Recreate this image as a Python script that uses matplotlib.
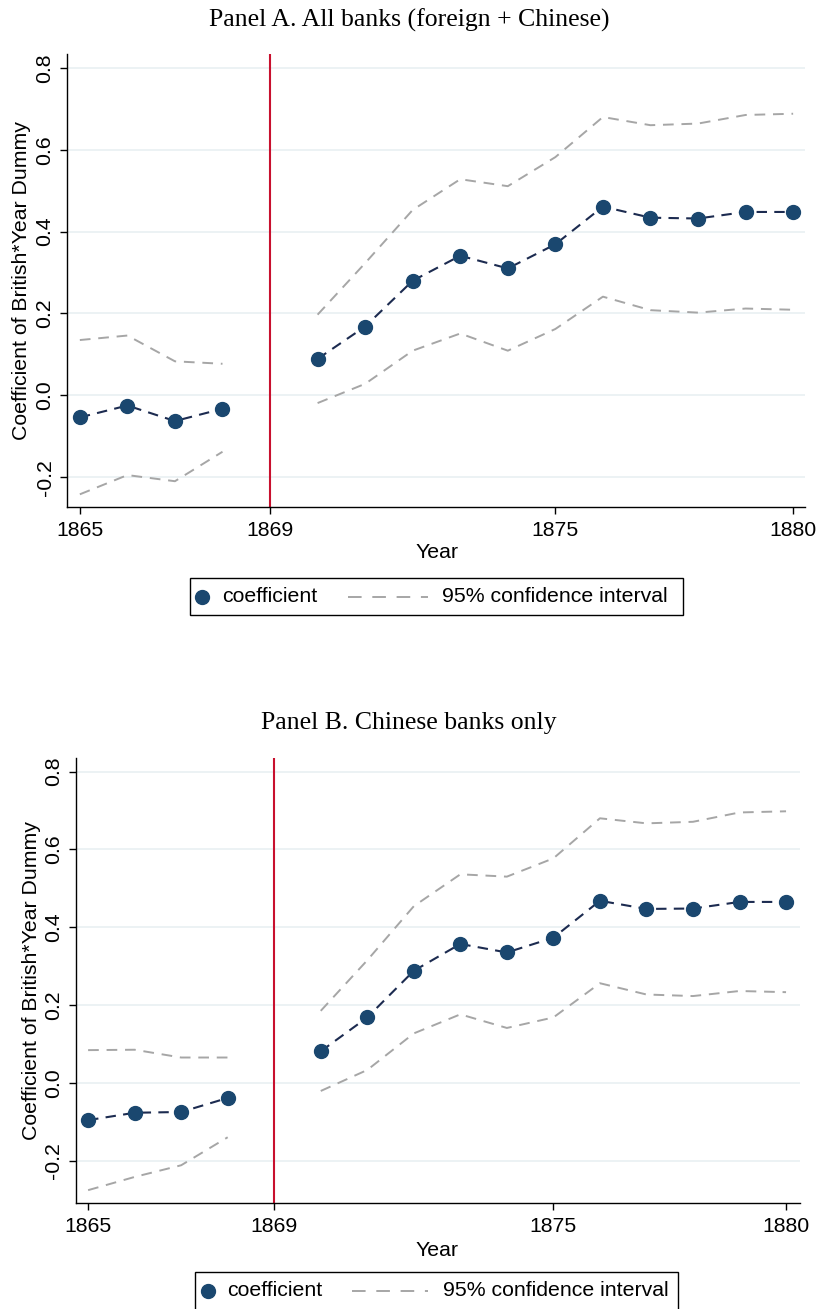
import matplotlib
matplotlib.use("Agg")
import matplotlib.pyplot as plt
from matplotlib.lines import Line2D
from matplotlib.patches import Rectangle

# ---------------- data ----------------
pre_years = [1865, 1866, 1867, 1868]
post_years = [1870, 1871, 1872, 1873, 1874, 1875, 1876, 1877, 1878, 1879, 1880]

# Panel A: all banks
a_coef_pre = [-0.054, -0.025, -0.063, -0.033]
a_up_pre = [0.135, 0.146, 0.083, 0.077]
a_lo_pre = [-0.242, -0.195, -0.210, -0.138]
a_coef_post = [0.089, 0.168, 0.280, 0.341, 0.310, 0.369, 0.461, 0.434, 0.432, 0.448, 0.448]
a_up_post = [0.197, 0.323, 0.453, 0.528, 0.511, 0.582, 0.680, 0.660, 0.664, 0.685, 0.688]
a_lo_post = [-0.019, 0.028, 0.109, 0.151, 0.109, 0.162, 0.241, 0.208, 0.202, 0.212, 0.209]

# Panel B: Chinese banks only
b_coef_pre = [-0.096, -0.077, -0.075, -0.039]
b_up_pre = [0.084, 0.085, 0.065, 0.065]
b_lo_pre = [-0.276, -0.242, -0.212, -0.140]
b_coef_post = [0.081, 0.168, 0.288, 0.357, 0.335, 0.373, 0.468, 0.447, 0.448, 0.465, 0.465]
b_up_post = [0.185, 0.315, 0.454, 0.536, 0.530, 0.577, 0.680, 0.667, 0.671, 0.695, 0.698]
b_lo_post = [-0.021, 0.033, 0.127, 0.176, 0.141, 0.168, 0.256, 0.227, 0.223, 0.236, 0.233]

event_year = 1869
x_ticks = [1865, 1869, 1875, 1880]
y_ticks = [-0.2, 0.0, 0.2, 0.4, 0.6, 0.8]
titles = ["Panel A. All banks (foreign + Chinese)", "Panel B. Chinese banks only"]
ylabel = "Coefficient of British*Year Dummy"
xlabel = "Year"
legend_labels = ["coefficient", "95% confidence interval"]

# ---------------- style ----------------
W, H = 818, 1309
DPI = 100
COEF_C = "#1a476f"
COEF_LINE = "#1c2b50"
CI_C = "#a6a6a6"
RED = "#c8102e"
GRID = "#e9f0f2"
SANS = ["Liberation Sans", "DejaVu Sans"]
SERIF = ["Liberation Serif", "DejaVu Serif"]
FS = 15.3
CI_DASH = (5.5, 4)
COEF_DASH = (5, 3.5)

plt.rcParams["font.family"] = SANS

fig = plt.figure(figsize=(W / DPI, H / DPI), dpi=DPI)
fig.patch.set_facecolor("white")

def fx(px):
    return px / W

def fy(py):
    return 1 - py / H

def px_axes(left, top, right, bottom):
    return fig.add_axes([left / W, 1 - bottom / H, (right - left) / W, (bottom - top) / H])

panels = [
    dict(rect=(67, 54, 805, 507), ylim=(-0.273, 0.834), xlim=(1864.73, 1880.25),
         coef=(a_coef_pre, a_coef_post), up=(a_up_pre, a_up_post), lo=(a_lo_pre, a_lo_post),
         title_y=20, xlabel=(437, 553), ylabel_x=31,
         leg=dict(box=(190, 578, 683, 615), mk=202, t1=222, d=(348, 428), t2=442, y=597)),
    dict(rect=(76, 758, 800, 1203), ylim=(-0.309, 0.835), xlim=(1864.74, 1880.3),
         coef=(b_coef_pre, b_coef_post), up=(b_up_pre, b_up_post), lo=(b_lo_pre, b_lo_post),
         title_y=723, xlabel=(437, 1250), ylabel_x=41,
         leg=dict(box=(195, 1272, 678, 1310), mk=208, t1=227, d=(352, 428), t2=443, y=1291)),
]

for i, p in enumerate(panels):
    ax = px_axes(*p["rect"])
    ax.set_xlim(*p["xlim"])
    ax.set_ylim(*p["ylim"])
    for s in ["top", "right"]:
        ax.spines[s].set_visible(False)
    for s in ["left", "bottom"]:
        ax.spines[s].set_linewidth(1.0)
        ax.spines[s].set_color("black")
    ax.set_yticks(y_ticks)
    ax.set_yticklabels([f"{v:.1f}" for v in y_ticks], rotation=90, va="center", fontsize=FS)
    ax.set_xticks(x_ticks)
    ax.set_xticklabels([str(v) for v in x_ticks], fontsize=FS)
    ax.tick_params(axis="both", direction="out", length=5, width=1.0, colors="black")
    ax.tick_params(axis="x", pad=5)
    ax.tick_params(axis="y", pad=4)
    ax.grid(axis="y", color=GRID, linewidth=1.2)
    ax.set_axisbelow(True)

    ax.axvline(event_year, color=RED, linewidth=1.5, zorder=2)

    for yrs, k in [(pre_years, 0), (post_years, 1)]:
        ax.plot(yrs, p["up"][k], color=CI_C, linewidth=1.4, dashes=CI_DASH, zorder=3)
        ax.plot(yrs, p["lo"][k], color=CI_C, linewidth=1.4, dashes=CI_DASH, zorder=3)
        ax.plot(yrs, p["coef"][k], color=COEF_LINE, linewidth=1.5, dashes=COEF_DASH, zorder=4)
        ax.plot(yrs, p["coef"][k], linestyle="none", marker="o", markersize=10,
                color=COEF_C, markeredgecolor=COEF_C, zorder=5)

    l, t, r, b = p["rect"]
    ax.set_ylabel(ylabel, fontsize=FS)
    ax.yaxis.set_label_coords((p["ylabel_x"] - l) / (r - l), 0.5)

    fig.text(fx(p["xlabel"][0]), fy(p["xlabel"][1]), xlabel, ha="center", va="center", fontsize=FS)
    fig.text(fx(409), fy(p["title_y"]), titles[i], ha="center", va="center",
             fontsize=18.5, family=SERIF)

    # legend (boxed, below the plot)
    lg = p["leg"]
    bx0, by0, bx1, by1 = lg["box"]
    fig.add_artist(Rectangle((fx(bx0), fy(by1)), fx(bx1) - fx(bx0), fy(by0) - fy(by1),
                             transform=fig.transFigure, facecolor="white",
                             edgecolor="black", linewidth=1.0))
    fig.add_artist(Line2D([fx(lg["mk"])], [fy(lg["y"])], transform=fig.transFigure,
                          linestyle="none", marker="o", markersize=10, color=COEF_C))
    fig.text(fx(lg["t1"]), fy(lg["y"]), legend_labels[0], ha="left", va="center", fontsize=FS)
    fig.add_artist(Line2D([fx(lg["d"][0]), fx(lg["d"][1])], [fy(lg["y"]), fy(lg["y"])],
                          transform=fig.transFigure, color=CI_C, linewidth=1.4,
                          dashes=(7, 5.5)))
    fig.text(fx(lg["t2"]), fy(lg["y"]), legend_labels[1], ha="left", va="center", fontsize=FS)

fig.savefig("out.png", dpi=DPI, facecolor="white")
